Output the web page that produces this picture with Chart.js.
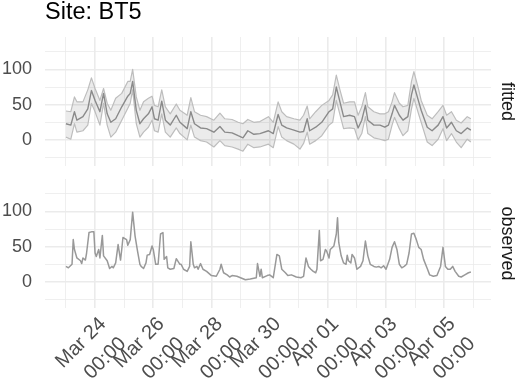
<!DOCTYPE html>
<html>
<head>
<meta charset="utf-8">
<script src="https://cdn.jsdelivr.net/npm/chart.js@4.4.0/dist/chart.umd.min.js"></script>
<style>
body { margin: 0; background: #fff; width: 520px; height: 380px; position: relative; overflow: hidden; }
canvas { position: absolute; left: 0; }
#fitted { top: 0; }
#observed { top: 172px; }
</style>
</head>
<body>
<canvas id="fitted" width="520" height="172"></canvas>
<canvas id="observed" width="520" height="208"></canvas>
<script>
// hours since Mar 23 00:00
var fitHours = [0,4,7,9,14,18,21,24,28,31,34,37,41,46,51,53,55,58,61,64,68,71,73,76,79,82,86,91,94,100,103,106,111,116,122,127,131,137,142,146,150,155,160,167,171,
	175,178,182,188,193,196,199,201,206,211,217,220,223,226,229,234,238,241,244,247,249,254,259,263,266,269,271,275,278,282,285,287,291,293,298,302,307,311,314,318,322,326,331,334];
var fitMean = [23,21,40,28,33,44,70,56,40,66,37,25,30,47,62,66,83,42,23,30,37,47,30,28,55,28,21,35,25,16,40,23,17,16,11,19,11,10,6,3,13,8,9,13,9,
	36,21,17,14,11,12,30,13,18,25,40,44,75,54,33,35,33,17,28,49,28,21,21,18,21,37,49,35,28,33,64,78,54,42,18,13,21,33,17,25,13,9,17,14];
var fitUpper = [41,40,61,54,54,71,88,73,56,73,52,42,59,66,83,83,100,61,42,54,59,62,49,47,71,47,37,51,42,35,60,40,35,33,28,38,30,29,25,23,29,25,26,33,25,
	54,40,33,30,28,35,48,30,40,49,56,64,92,71,52,54,54,35,47,67,47,40,37,37,40,54,67,52,47,49,83,97,71,56,35,30,40,49,35,40,28,24,33,30];
var fitLower = [4,1,23,11,13,21,52,40,21,52,21,4,11,28,45,52,71,23,4,11,18,28,13,11,37,11,4,17,9,0,21,4,-1,-3,-10,-1,-8,-10,-13,-16,-6,-11,-10,-6,-11,
	19,4,-1,-6,-13,-5,11,-6,-1,6,21,25,56,36,16,17,16,0,9,33,9,3,1,-1,1,21,32,16,6,13,44,59,36,25,-3,-8,1,16,-1,9,-3,-11,1,-3];

// [hour, value]
var observed = [[0,22],[2,20],[5,25],[6,60],[7,46],[9,34],[12,30],[13,26],[14,34],[16,31],[17,41],[19,70],[21,71],[23,71],[24,41],[25,36],[27,46],[28,34],[30,66],[31,37],
	[34,30],[36,19],[38,22],[39,20],[41,27],[43,53],[45,31],[46,46],[47,63],[50,60],[51,52],[53,60],[55,99],[57,65],[59,44],[61,25],[62,22],[64,19],[66,27],[67,38],
	[69,39],[71,51],[72,46],[74,25],[76,25],[78,68],[80,70],[81,32],[83,36],[84,20],[86,18],[89,19],[91,33],[94,25],[95,25],[97,18],[100,15],[102,22],[103,57],[105,25],
	[106,20],[108,22],[109,18],[111,26],[113,18],[116,15],[120,9],[124,8],[127,18],[128,25],[130,13],[133,10],[135,7],[137,9],[141,8],[144,6],[148,3],[152,4],[157,6],[158,26],
	[160,8],[161,18],[162,6],[166,9],[168,10],[171,6],[174,39],[176,37],[178,18],[181,13],[183,9],[186,10],[190,7],[194,6],[196,8],[198,34],[200,22],[202,18],[204,15],[206,13],
	[207,18],[209,73],[210,30],[212,32],[214,46],[215,44],[217,34],[218,46],[221,51],[223,68],[224,91],[225,56],[227,37],[229,27],[231,25],[232,38],[233,30],[235,27],[236,39],[238,34],
	[240,18],[243,22],[245,30],[247,58],[249,37],[251,25],[254,22],[256,21],[258,22],[260,20],[262,23],[264,18],[267,32],[269,49],[271,57],[273,46],[275,25],[277,20],[279,22],[281,25],
	[283,41],[285,68],[287,69],[289,60],[291,49],[293,46],[295,32],[298,19],[300,10],[303,8],[306,9],[309,22],[311,49],[313,22],[315,18],[317,18],[319,22],[321,15],[324,8],[326,7],
	[329,10],[332,13],[334,14]];

var xTickHours = [0,24,48,72,96,120,144,168,192,216,240,264,288,312,336];
var xLabels = {24:["Mar 24","00:00"], 72:["Mar 26","00:00"], 120:["Mar 28","00:00"], 168:["Mar 30","00:00"],
	216:["Apr 01","00:00"], 264:["Apr 03","00:00"], 312:["Apr 05","00:00"]};
var yTicks = [-25,0,25,50,75,100,125];
var yLabels = [0,50,100];

Chart.defaults.font.family = '"Liberation Sans", Arial, sans-serif';

var stripLabel = {
	id: 'stripLabel',
	afterDraw: function(chart, args, opts) {
		var a = chart.chartArea, c = chart.ctx;
		c.save();
		c.translate(a.right + 16, (a.top + a.bottom) / 2);
		c.rotate(Math.PI / 2);
		c.font = '18px "Liberation Sans", Arial, sans-serif';
		c.fillStyle = '#1a1a1a';
		c.textAlign = 'center';
		c.textBaseline = 'middle';
		c.fillText(opts.text, 0, 0);
		c.restore();
	}
};

function pts(xs, ys)
{
	var out = [];
	for(var i = 0; i < xs.length; i ++) out.push({x: xs[i], y: ys[i]});
	return out;
}

function makeScales(showX)
{
	return {
		x: {
			type: 'linear',
			min: -17.3,
			max: 350.6,
			afterBuildTicks: function(s) { s.ticks = xTickHours.map(function(v){ return {value: v}; }); },
			afterFit: function(s) { s.height = showX ? 72 : 0; s.paddingLeft = 0; s.paddingRight = 0; },
			border: { display: false },
			grid: {
				color: '#ebebeb',
				drawTicks: false,
				lineWidth: function(ctx) { return ctx.tick && (ctx.tick.value / 24) % 2 == 1 ? 1.6 : 0.8; }
			},
			ticks: {
				display: showX,
				autoSkip: false,
				minRotation: 45,
				maxRotation: 45,
				padding: 3,
				labelOffset: 8,
				color: '#4d4d4d',
				font: { size: 20, lineHeight: 1.4 },
				callback: function(v) { return xLabels[v] || ''; }
			}
		},
		y: {
			min: -37,
			max: 146,
			afterBuildTicks: function(s) { s.ticks = yTicks.map(function(v){ return {value: v}; }); },
			afterFit: function(s) { s.width = 45; s.paddingTop = 0; s.paddingBottom = 0; },
			border: { display: false },
			grid: {
				color: '#ebebeb',
				drawTicks: false,
				lineWidth: function(ctx) { return ctx.tick && yLabels.indexOf(ctx.tick.value) != -1 ? 1.6 : 0.8; }
			},
			ticks: {
				autoSkip: false,
				padding: 13,
				color: '#4d4d4d',
				font: { size: 18 },
				callback: function(v) { return yLabels.indexOf(v) != -1 ? String(v) : ''; }
			}
		}
	};
}

var baseLine = { pointRadius: 0, tension: 0, borderJoinStyle: 'round' };

new Chart(document.getElementById('fitted'), {
	type: 'line',
	data: {
		datasets: [
			Object.assign({ data: pts(fitHours, fitUpper), borderColor: '#bdbdbd', borderWidth: 1.2, backgroundColor: 'rgba(0,0,0,0.08)', fill: '+1', order: 2 }, baseLine),
			Object.assign({ data: pts(fitHours, fitLower), borderColor: '#bdbdbd', borderWidth: 1.2, fill: false, order: 1 }, baseLine),
			Object.assign({ data: pts(fitHours, fitMean), borderColor: '#8a8a8a', borderWidth: 1.4, fill: false, order: 0 }, baseLine)
		]
	},
	options: {
		responsive: false,
		animation: false,
		layout: { padding: { left: 0, right: 29, top: 0, bottom: 6 } },
		scales: makeScales(false),
		plugins: {
			legend: { display: false },
			tooltip: { enabled: false },
			filler: { drawTime: 'beforeDatasetsDraw' },
			title: {
				display: true,
				text: 'Site: BT5',
				align: 'start',
				fullSize: false,
				color: '#000',
				font: { size: 23.5, weight: 'normal', lineHeight: 1 },
				padding: { top: 1, bottom: 12.5 }
			},
			stripLabel: { text: 'fitted' }
		}
	},
	plugins: [stripLabel]
});

new Chart(document.getElementById('observed'), {
	type: 'line',
	data: {
		datasets: [
			Object.assign({ data: observed.map(function(p){ return {x: p[0], y: p[1]}; }), borderColor: '#999999', borderWidth: 1.5, fill: false }, baseLine)
		]
	},
	options: {
		responsive: false,
		animation: false,
		layout: { padding: { left: 0, right: 29, top: 7, bottom: 0 } },
		scales: makeScales(true),
		plugins: {
			legend: { display: false },
			tooltip: { enabled: false },
			stripLabel: { text: 'observed' }
		}
	},
	plugins: [stripLabel]
});
</script>
</body>
</html>
